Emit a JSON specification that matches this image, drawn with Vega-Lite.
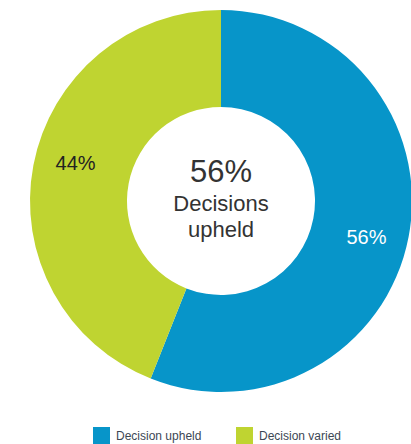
{
  "$schema": "https://vega.github.io/schema/vega-lite/v6.json",
  "width": 380,
  "height": 402,
  "autosize": {"type": "none"},
  "padding": {"left": 31, "top": 0, "right": 0, "bottom": 42},
  "background": "white",
  "data": {"values": [
    {"category": "Decision upheld", "value": 56, "label": "56%", "order": 1},
    {"category": "Decision varied", "value": 44, "label": "44%", "order": 2}
  ]},
  "config": {"view": {"stroke": null}, "font": "Liberation Sans"},
  "layer": [
    {
      "mark": {"type": "arc", "outerRadius": 191, "innerRadius": 94},
      "encoding": {
        "theta": {"field": "value", "type": "quantitative", "stack": true},
        "order": {"field": "order", "type": "quantitative"},
        "color": {
          "field": "category", "type": "nominal",
          "scale": {"domain": ["Decision upheld", "Decision varied"], "range": ["#0795c9", "#bfd431"]},
          "legend": {
            "title": null, "orient": "none", "direction": "horizontal",
            "legendX": 62, "legendY": 427,
            "symbolType": "square", "symbolSize": 289, "symbolStrokeWidth": 0,
            "labelFontSize": 12, "labelColor": "#3c4754", "labelFont": "Liberation Sans",
            "columnPadding": 34, "labelOffset": 6, "padding": 0
          }
        }
      }
    },
    {
      "mark": {"type": "text", "radius": 150, "fontSize": 20, "baseline": "middle", "align": "center"},
      "encoding": {
        "theta": {"field": "value", "type": "quantitative", "stack": true, "scale": {"range": [0.058, 6.3412]}},
        "order": {"field": "order", "type": "quantitative"},
        "text": {"field": "label"},
        "color": {
          "field": "category", "type": "nominal",
          "scale": {"domain": ["Decision upheld", "Decision varied"], "range": ["#ffffff", "#222222"]},
          "legend": null
        }
      }
    },
    {
      "data": {"values": [{"t": "56%"}]},
      "mark": {"type": "text", "fontSize": 31, "dy": -19, "baseline": "alphabetic", "align": "center", "color": "#333333"},
      "encoding": {"text": {"field": "t"}}
    },
    {
      "data": {"values": [{"t": "Decisions"}]},
      "mark": {"type": "text", "fontSize": 22, "dy": 10, "baseline": "alphabetic", "align": "center", "color": "#333333"},
      "encoding": {"text": {"field": "t"}}
    },
    {
      "data": {"values": [{"t": "upheld"}]},
      "mark": {"type": "text", "fontSize": 22, "dy": 36, "baseline": "alphabetic", "align": "center", "color": "#333333"},
      "encoding": {"text": {"field": "t"}}
    }
  ],
  "resolve": {"scale": {"theta": "independent", "color": "independent"}}
}
